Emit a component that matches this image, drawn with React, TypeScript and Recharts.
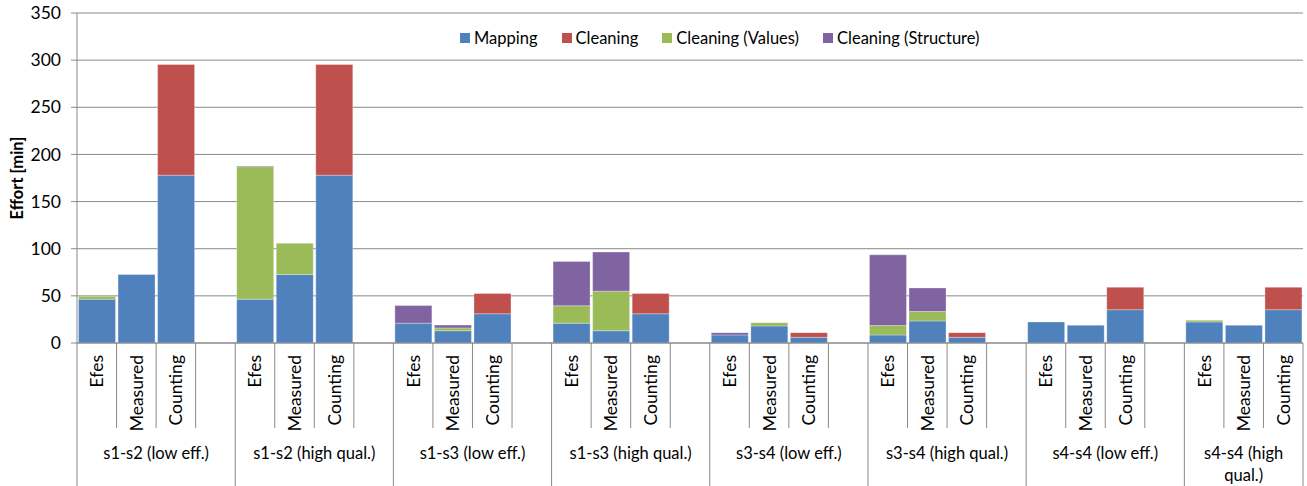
import { BarChart, Bar, XAxis, YAxis, CartesianGrid } from 'recharts'

// ── Effort per matching task, stacked by activity ──────────────────────────

const groups = [
  's1-s2 (low eff.)', 's1-s2 (high qual.)', 's1-s3 (low eff.)', 's1-s3 (high qual.)',
  's3-s4 (low eff.)', 's3-s4 (high qual.)', 's4-s4 (low eff.)', 's4-s4 (high qual.)',
]
const methods = ['Efes', 'Measured', 'Counting']

// one value per (group, method), in group order
const mapping = [46.5, 72.7, 178, 46.5, 72.7, 178, 21, 13, 31, 21, 13, 31, 8.5, 18, 6, 8.5, 23.4, 6, 22.3, 18.8, 35.3, 22.3, 18.8, 35.3]
const cleaning = [0, 0, 117.4, 0, 0, 117.4, 0, 0, 21.5, 0, 0, 21.5, 0, 0, 5, 0, 0, 5, 0, 0, 23.8, 0, 0, 23.8]
const cleaningValues = [3, 0, 0, 140.5, 33, 0, 0, 3, 0, 18.5, 42, 0, 0, 3.6, 0, 10, 10, 0, 0, 0, 0, 1.8, 0, 0]
const cleaningStructure = [0, 0, 0, 0.8, 0, 0, 18.7, 3, 0, 47, 41.5, 0, 2.5, 0, 0, 75, 25, 0, 0, 0, 0, 0, 0, 0]

const yTicks = [0, 50, 100, 150, 200, 250, 300, 350]

const series = [
  { key: 'Mapping', color: '#4F81BD', values: mapping },
  { key: 'Cleaning', color: '#C0504D', values: cleaning },
  { key: 'Cleaning (Values)', color: '#9BBB59', values: cleaningValues },
  { key: 'Cleaning (Structure)', color: '#8064A2', values: cleaningStructure },
]

const W = 1307
const H = 486
const TOP = 13
const PLOT_H = 330
const Y_AXIS_W = 77
const RIGHT = 4
const X_AXIS_H = H - TOP - PLOT_H
const PLOT_W = W - Y_AXIS_W - RIGHT
const AXIS_Y = TOP + PLOT_H
const LINE = '#898989'
const FONT = 'Lato, "Open Sans", sans-serif'

type Row = { key: string; method: string; group: number; pos: number; [k: string]: string | number | null }

const rows: Row[] = []
groups.forEach((_, gi) => {
  methods.forEach((m, mi) => {
    const k = gi * methods.length + mi
    const row: Row = { key: `${gi}-${mi}`, method: m, group: gi, pos: mi }
    for (const s of series) row[s.key] = s.values[k] ? s.values[k] : null
    rows.push(row)
  })
  if (gi < groups.length - 1) rows.push({ key: `gap-${gi}`, method: '', group: gi, pos: 3 })
})

const SLOT = PLOT_W / rows.length

function CategoryTick(props: any) {
  const { x, index } = props
  const row = rows[index]
  if (!row) return null
  const left = x - SLOT / 2
  const isStart = row.pos === 0
  const last = index === rows.length - 1
  const nSlots = row.group < groups.length - 1 ? 4 : 3
  const label = groups[row.group]
  const wrap = nSlots * SLOT < 130
  const words = label.split(' ')
  const lines = wrap ? [words.slice(0, -1).join(' '), words[words.length - 1]] : [label]
  const gx = left + (nSlots * SLOT) / 2
  return (
    <g>
      <line x1={left} y1={AXIS_Y} x2={left} y2={isStart ? H : 428} stroke={LINE} strokeWidth={1} />
      {last && <line x1={left + SLOT} y1={AXIS_Y} x2={left + SLOT} y2={H} stroke={LINE} strokeWidth={1} />}
      {row.method && (
        <text x={x} y={355} transform={`rotate(-90 ${x} 355)`} textAnchor="end" dominantBaseline="central"
              fontSize={17.5} fontFamily={FONT} fill="#000">{row.method}</text>
      )}
      {isStart && lines.map((l, i) => (
        <text key={i} x={gx} y={453 + i * 22} textAnchor="middle" dominantBaseline="central"
              fontSize={16.5} fontFamily={FONT} fill="#000">{l}</text>
      ))}
    </g>
  )
}

function LegendBox() {
  return (
    <div style={{ position: 'absolute', left: 460, top: 28, display: 'flex', fontFamily: FONT, fontSize: 16.5,
                  color: '#000', whiteSpace: 'nowrap', lineHeight: '20px' }}>
      {series.map(s => (
        <div key={s.key} style={{ display: 'flex', alignItems: 'center', marginRight: 24 }}>
          <span style={{ width: 10, height: 10, background: s.color, marginRight: 4, display: 'inline-block' }} />
          <span>{s.key}</span>
        </div>
      ))}
    </div>
  )
}

function YLabel(props: any) {
  const vb = props.viewBox
  const cx = 17
  const cy = vb.y + vb.height / 2
  return (
    <text x={cx} y={cy} transform={`rotate(-90 ${cx} ${cy})`} textAnchor="middle" dominantBaseline="central"
          fontSize={16.5} fontWeight={700} fontFamily={FONT} fill="#000">Effort [min]</text>
  )
}

export default function App() {
  return (
    <div style={{ position: 'absolute', left: 0, top: 0, width: W, height: H, background: '#fff' }}>
      <BarChart width={W} height={H} data={rows} margin={{ top: TOP, right: RIGHT, left: 0, bottom: 0 }}
                barCategoryGap={1.5}>
        <CartesianGrid vertical={false} stroke={LINE} strokeWidth={1} />
        <YAxis domain={[0, 350]} ticks={yTicks} width={Y_AXIS_W} interval={0}
               axisLine={{ stroke: LINE }} tickLine={{ stroke: LINE }} tickSize={6} tickMargin={10}
               tick={{ fill: '#000', fontSize: 17.5, fontFamily: FONT }}
               label={{ content: YLabel }} />
        <XAxis dataKey="key" interval={0} height={X_AXIS_H} tickLine={false} tickSize={0}
               axisLine={{ stroke: LINE }} tick={CategoryTick} />
        {series.map(s => (
          <Bar key={s.key} dataKey={s.key} stackId="a" fill={s.color}
               stroke="#ffffff" strokeOpacity={0.5} strokeWidth={0.6} isAnimationActive={false} />
        ))}
      </BarChart>
      <LegendBox />
    </div>
  )
}
